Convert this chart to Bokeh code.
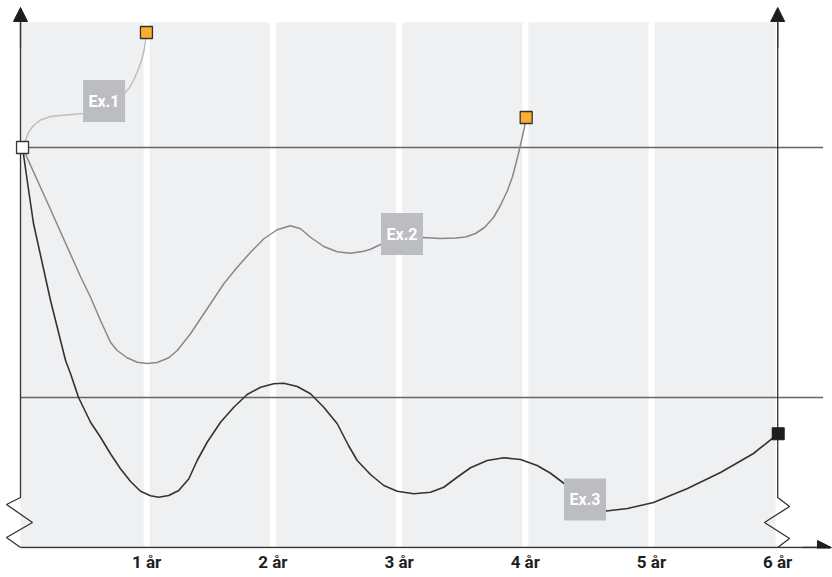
from bokeh.plotting import figure
from bokeh.models import Range1d, FixedTicker, Arrow, NormalHead
from bokeh.core.properties import value
from bokeh.embed import file_html
from bokeh.resources import INLINE

# ---- data (x in years, y in index units: upper line = 100, lower line = 0) ----
years = [1, 2, 3, 4, 5, 6]
year_labels = ["1 år", "2 år", "3 år", "4 år", "5 år", "6 år"]
upper_level = 100
lower_level = 0

ex1_x = [0.016, 0.04, 0.063, 0.103, 0.158, 0.238, 0.357, 0.50, 0.666, 0.824, 0.864, 0.895,
         0.927, 0.959, 0.979, 0.990, 0.998]
ex1_y = [100, 102.8, 106, 108.8, 111, 112.4, 113, 113.6, 116.4, 121.6, 124, 126.8,
         130.4, 134.8, 138.8, 142.8, 146]

ex2_x = [0.016, 0.238, 0.475, 0.555, 0.634, 0.713, 0.766, 0.845, 0.925, 1.004, 1.083, 1.175,
         1.242, 1.347, 1.479, 1.611, 1.717, 1.823, 1.928, 2.034, 2.139, 2.219, 2.298, 2.403,
         2.510, 2.615, 2.720, 2.773, 2.853, 3.011, 3.193, 3.328, 3.447, 3.526, 3.605, 3.677,
         3.748, 3.803, 3.859, 3.899, 3.938, 3.970, 3.994, 4.007]
ex2_y = [100, 75.2, 48.4, 40.1, 30.8, 22.1, 18.8, 15.9, 14.1, 13.6, 14.0, 15.9,
         18.8, 25.5, 35.5, 45.5, 52.1, 58.1, 63.5, 67.1, 68.7, 67.5, 64.1, 60.4,
         58.3, 57.7, 58.5, 59.3, 61.2, 62.6, 64, 63.6, 63.8, 64.2, 65.6, 68,
         72, 76.8, 82.8, 88.4, 96, 102.8, 108.4, 112]

ex3_x = [0.016, 0.0555, 0.103, 0.238, 0.357, 0.396, 0.460, 0.555, 0.634, 0.713, 0.792, 0.872,
         0.951, 1.030, 1.096, 1.175, 1.254, 1.334, 1.400, 1.479, 1.585, 1.690, 1.796, 1.902,
         2.007, 2.086, 2.193, 2.298, 2.403, 2.510, 2.599, 2.668, 2.773, 2.879, 2.985, 3.117,
         3.249, 3.354, 3.460, 3.566, 3.698, 3.830, 3.962, 4.094, 4.200, 4.305, 4.477, 4.643,
         4.810, 5.016, 5.285, 5.547, 5.808, 6.004]
ex3_y = [100, 86, 69.6, 38.8, 14.8, 9.6, 0, -9.9, -15.9, -22.5, -28.5, -33.6,
         -37.5, -39.3, -39.9, -39.2, -37.2, -32.5, -25.2, -17.9, -9.9, -3.9, 1.2, 4.1,
         5.5, 5.7, 4.4, 1.5, -3.9, -10.5, -19.2, -25.2, -30.8, -35.2, -37.5, -38.5,
         -37.9, -35.9, -31.9, -28.1, -25.2, -24.1, -24.8, -27.2, -30.3, -34.3, -40.4, -45.4,
         -44.4, -42, -36.4, -30, -22.4, -14.5]

start_point = (0.016, 100)
ex_end_x = [0.998, 4.007]
ex_end_y = [146, 112]
ex3_end = (6.004, -14.5)

label_text = ["Ex.1", "Ex.2", "Ex.3"]
label_x = [0.662, 3.023, 4.473]
label_y = [118.6, 65.4, -40.8]

# axis-break (zigzag) shapes
left_break_x = [0, 0, -0.111, 0.095, -0.111, 0]
left_break_y = [150, -40, -42.8, -50, -56, -60]
right_break_x = [6, 6, 6.094, 5.895, 6.094, 6]
right_break_y = [150, -40, -43.6, -50, -56.4, -60]

X0, X1 = -0.1585, 6.4342
Y0, Y1 = -60.4, 158.8

p = figure(width=832, height=577, output_backend="svg", toolbar_location=None,
           x_range=Range1d(X0, X1), y_range=Range1d(Y0, Y1),
           x_axis_location="below", y_axis_location=None,
           min_border_left=0, min_border_right=0, min_border_top=0, min_border_bottom=29)
p.outline_line_color = None
p.background_fill_color = "white"
p.grid.visible = False

# background panel and year separators
p.quad(left=[0], right=[5.984], bottom=[-60], top=[150], fill_color="#eff0f2", line_color=None)
p.vbar(x=years[:-1], width=0.048, bottom=-60, top=150, fill_color="white", line_color=None)

# reference lines
p.segment(x0=[0, 0], y0=[upper_level, lower_level], x1=[6.36, 6.36], y1=[upper_level, lower_level],
          line_color="#666666", line_width=1.5)

# axes with breaks
p.line(left_break_x, left_break_y, line_color="#333333", line_width=1.3)
p.line(right_break_x, right_break_y, line_color="#333333", line_width=1.3)
p.segment(x0=[0], y0=[-60], x1=[6.40], y1=[-60], line_color="#333333", line_width=1.5)

head = dict(size=14, fill_color="#1e1e1e", line_color="#1e1e1e")
p.add_layout(Arrow(end=NormalHead(**head), x_start=0, y_start=140, x_end=0, y_end=156,
                   line_color="#333333", line_width=1.3))
p.add_layout(Arrow(end=NormalHead(**head), x_start=6, y_start=140, x_end=6, y_end=156,
                   line_color="#333333", line_width=1.3))
p.add_layout(Arrow(end=NormalHead(**head), x_start=6.2, y_start=-60, x_end=6.426, y_end=-60,
                   line_color="#333333", line_width=1.5))

# curves
p.line(ex1_x, ex1_y, line_color="#bdbdbd", line_width=1.5, line_join="round")
p.line(ex2_x, ex2_y, line_color="#888888", line_width=1.5, line_join="round")
p.line(ex3_x, ex3_y, line_color="#333333", line_width=1.6, line_join="round")

# label boxes
p.scatter(label_x, label_y, marker="square", size=42, fill_color="#bcbdc0", line_color=None)
p.text(label_x, label_y, text=label_text, text_font=value("Roboto"), text_font_style="bold",
       text_font_size="16px", text_color="white", text_align="center", text_baseline="middle")

# end markers
p.scatter([start_point[0]], [start_point[1]], marker="square", size=12,
          fill_color="white", line_color="#333333", line_width=1.3)
p.scatter(ex_end_x, ex_end_y, marker="square", size=12,
          fill_color="#f9ae2f", line_color="#333333", line_width=1.3)
p.scatter([ex3_end[0]], [ex3_end[1]], marker="square", size=12,
          fill_color="#1e1e1e", line_color="#1e1e1e")

# x axis tick labels
ax = p.xaxis[0]
ax.ticker = FixedTicker(ticks=years)
ax.major_label_overrides = {y: l for y, l in zip(years, year_labels)}
ax.axis_line_color = None
ax.major_tick_line_color = None
ax.minor_tick_line_color = None
ax.major_tick_out = 0
ax.major_tick_in = 0
ax.major_label_standoff = 3
ax.major_label_text_font = "Roboto"
ax.major_label_text_font_style = "bold"
ax.major_label_text_font_size = "17px"
ax.major_label_text_color = "#1e1e1e"

open("out.html", "w").write(file_html(p, INLINE))
